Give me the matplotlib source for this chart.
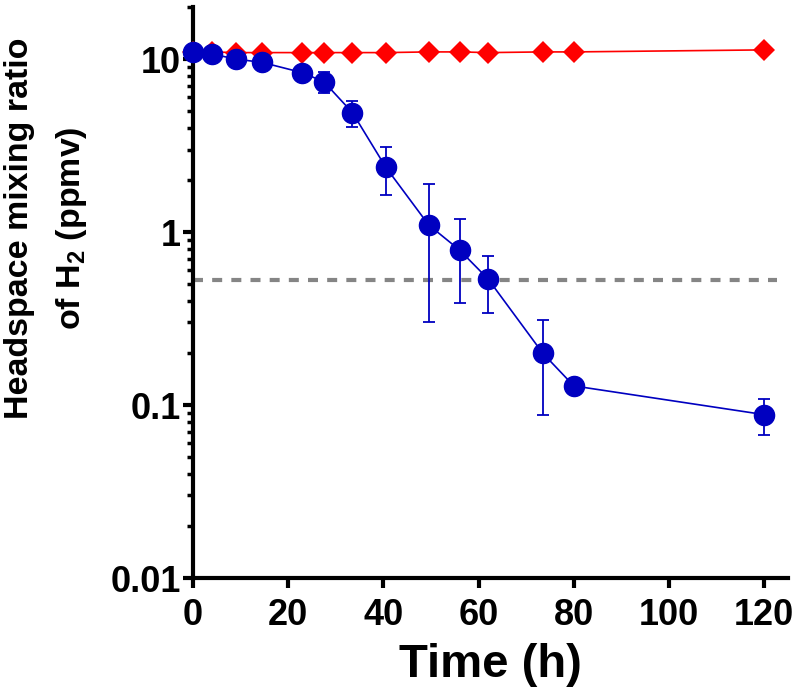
import matplotlib
matplotlib.use("Agg")
import matplotlib.pyplot as plt
from matplotlib.ticker import LogLocator, FixedLocator, NullFormatter

# ---- data ----
time_h = [0, 4, 9, 14.5, 23, 27.5, 33.5, 40.5, 49.5, 56, 62, 73.5, 80, 120]
h2_live = [11.0, 10.7, 10.0, 9.57, 8.34, 7.39, 4.90, 2.37, 1.10, 0.787, 0.535, 0.199, 0.129, 0.088]
h2_live_sd = [0.3, 0.3, 0.4, 0.5, 0.5, 1.0, 0.85, 0.73, 0.80, 0.40, 0.195, 0.112, 0.01, 0.021]
h2_control = [11.0, 11.0, 10.9, 10.9, 10.9, 10.9, 10.9, 10.9, 11.0, 11.0, 10.9, 11.0, 11.0, 11.3]
detection_limit = 0.53
x_ticks = [0, 20, 40, 60, 80, 100, 120]
y_ticks = [0.01, 0.1, 1, 10]
y_tick_labels = ["0.01", "0.1", "1", "10"]

plt.rcParams['font.family'] = ['Liberation Sans', 'DejaVu Sans']
plt.rcParams['mathtext.fontset'] = 'custom'
plt.rcParams['mathtext.rm'] = 'Liberation Sans:bold'
plt.rcParams['mathtext.it'] = 'Liberation Sans:bold'
plt.rcParams['mathtext.bf'] = 'Liberation Sans:bold'

fig = plt.figure(figsize=(7.98, 6.95), dpi=100)
ax = fig.add_axes([193/798, (695-578)/695, (788-193)/798, (578-7)/695])

blue = '#0000C0'
red = '#FF0000'

ax.plot(time_h, h2_control, color=red, lw=1.2, marker='D', ms=11.5,
        markeredgewidth=0, zorder=3, clip_on=False)
ax.errorbar(time_h, h2_live, yerr=h2_live_sd, color=blue, lw=1.2, marker='o', ms=14.5,
            markeredgecolor=blue, markerfacecolor=blue,
            ecolor=blue, elinewidth=1.3, capsize=4, capthick=1.3,
            zorder=4, clip_on=False)
ax.plot([0, 122.7], [detection_limit, detection_limit], color='#858585', lw=3,
        dashes=(2.4, 2.2), zorder=2)

ax.set_yscale('log')
ax.set_xlim(0, 125)
ax.set_ylim(0.01, 20)

ax.spines['top'].set_visible(False)
ax.spines['right'].set_visible(False)
for s in ('left', 'bottom'):
    ax.spines[s].set_linewidth(3)

ax.xaxis.set_major_locator(FixedLocator(x_ticks))
ax.set_xticklabels([str(t) for t in x_ticks])
ax.yaxis.set_major_locator(FixedLocator(y_ticks))
ax.set_yticklabels(y_tick_labels)
ax.yaxis.set_minor_locator(LogLocator(base=10, subs=range(2, 10), numticks=20))
ax.yaxis.set_minor_formatter(NullFormatter())

ax.tick_params(which='major', direction='out', length=7.5, width=3, labelsize=26)
ax.tick_params(which='minor', direction='out', length=4.5, width=2.5)
ax.tick_params(axis='y', which='major', pad=1)
ax.tick_params(axis='x', which='major', pad=7)
for lab in ax.get_xticklabels() + ax.get_yticklabels():
    lab.set_fontweight('bold')

ax.set_xlabel('Time (h)', fontsize=34, fontweight='bold', labelpad=7)

fig.text(0.005, (695-228)/695, 'Headspace mixing ratio\nof H$_2$ (ppmv)', rotation=90,
         ha='left', va='center', multialignment='center', fontsize=24.5,
         fontweight='bold', linespacing=1.75)

fig.savefig('out.png', dpi=100)
